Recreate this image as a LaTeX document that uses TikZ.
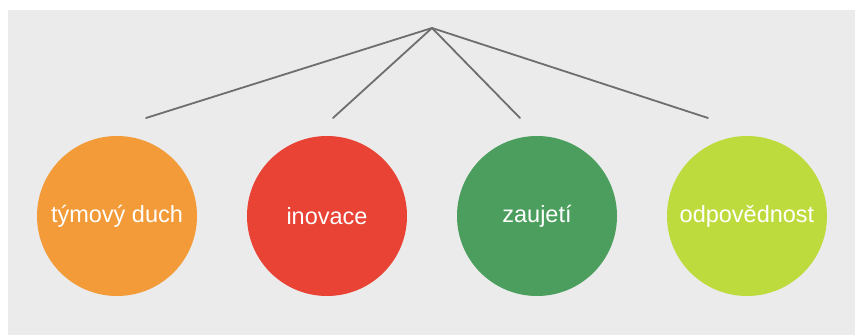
\documentclass[tikz,border=0pt]{standalone}
\usepackage{fontspec}
\setmainfont{Liberation Sans}
\definecolor{panel}{HTML}{EBEBEB}
\definecolor{linegray}{HTML}{6E6E6E}
\definecolor{c1}{HTML}{F29B38}
\definecolor{c2}{HTML}{E84335}
\definecolor{c3}{HTML}{4B9E5D}
\definecolor{c4}{HTML}{BEDB3D}
\begin{document}
\begin{tikzpicture}[x=1pt,y=1pt,
  value/.style={circle,minimum size=160pt,inner sep=0pt,text=white,font=\fontsize{23.5}{26}\selectfont},
  branch/.style={draw=linegray,line width=1.8pt,line cap=round}]
\useasboundingbox (0,0) rectangle (855,335);
\fill[white] (0,0) rectangle (855,335);
\fill[panel] (8,0) rectangle (855,325);
% value circles
\node[value,fill=c1] (team) at (117,119) {týmový duch};
\node[value,fill=c2] (innov) at (327,119) {inovace};
\node[value,fill=c3] (engage) at (537,119) {zaujetí};
\node[value,fill=c4] (resp) at (747,119) {odpovědnost};
% branching lines
\coordinate (top) at (432,307);
\coordinate (e1) at (146,217);
\coordinate (e2) at (333,217);
\coordinate (e3) at (520,217);
\coordinate (e4) at (708,217);
\foreach \e in {e1,e2,e3,e4}
  \draw[branch] (top) -- (\e);
\end{tikzpicture}
\end{document}
